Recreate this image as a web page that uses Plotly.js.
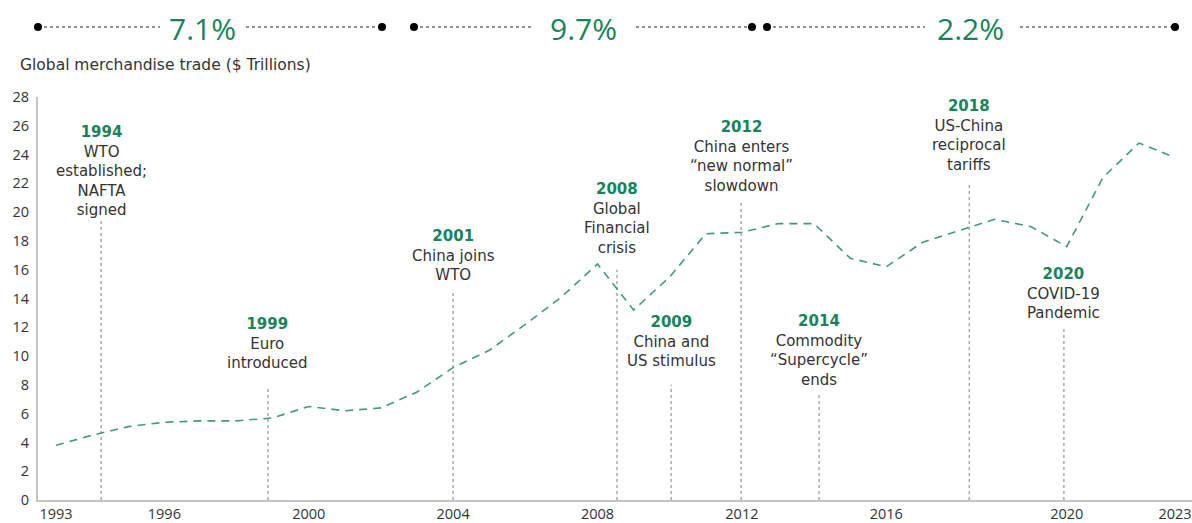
<!DOCTYPE html>
<html><head><meta charset="utf-8">
<script src="https://cdn.plot.ly/plotly-3.0.1.min.js"></script>
<style>html,body{margin:0;padding:0;background:#fff}#chart{width:1192px;height:523px}</style>
</head><body><div id="chart"></div>
<script>
// ---- data ----
const periods = ['1993','1994','1995','1996','1997','1998','1999','2000','2001','2002','2003','2004','2005','2006','2007','2008','2009','2010','2011','2012','2013','2014','2015','2016','2017','2017b','2018','2019','2020','2021','2022','2023'];
const tradeValues = [3.8,4.5,5.1,5.4,5.5,5.5,5.7,6.5,6.2,6.4,7.5,9.2,10.4,12.2,14.1,16.4,13.2,15.5,18.5,18.6,19.2,19.2,16.8,16.2,17.9,18.7,19.5,19.0,17.6,22.4,24.8,23.8];
const tickLabels = ['1993','1996','2000','2004','2008','2012','2016','2020','2023'];
const eventYears = ['1994','1999','2001','2008','2009','2012','2014','2018','2020'];
const eventTexts = ['WTO<br>established;<br>NAFTA<br>signed','Euro<br>introduced','China joins<br>WTO','Global<br>Financial<br>crisis','China and<br>US stimulus','China enters<br>“new normal”<br>slowdown','Commodity<br>“Supercycle”<br>ends','US-China<br>reciprocal<br>tariffs','COVID-19<br>Pandemic'];
const growthRates = ['7.1%','9.7%','2.2%'];
const yTitle = 'Global merchandise trade ($ Trillions)';

// ---- layout helpers (positions / styles) ----
const GREEN = '#16845a';
const LINEGREEN = '#3f9c74';
const FONT = 'Open Sans, sans-serif';
const TFONT = 'DejaVu Sans, sans-serif';
const xIdx = periods.map((_, i) => i);
const eventX = [1.25, 5.87, 11.0, 15.54, 17.04, 18.98, 21.14, 25.3, 27.92];
const eventLineTop = [19.6, 7.85, 14.6, 16.0, 8.0, 20.7, 7.3, 22.0, 12.0];
const eventTextTop = [26.36, 12.96, 19.11, 22.36, 13.11, 26.71, 13.21, 28.16, 16.46];
const PXU = 403 / 28;

const L = 38, T = 97, W = 1154, H = 403;
const px = x => (x - L) / W;
const py = y => (T + H - y) / H;

const shapes = [];
const annotations = [];

eventX.forEach((x, i) => {
  shapes.push({type:'line', xref:'x', yref:'y', x0:x, x1:x, y0:0, y1:eventLineTop[i],
    line:{color:'#a8a8a8', width:1.5, dash:'dot'}, layer:'below'});
  const yy = Math.min(eventTextTop[i], 28);
  annotations.push({xref:'x', yref:'y', x:x, y:yy, yshift:(eventTextTop[i] - yy) * PXU,
    xanchor:'center', yanchor:'top',
    showarrow:false, align:'center',
    text:'<b><span style="color:' + GREEN + '">' + eventYears[i] + '</span></b><br>' + eventTexts[i],
    font:{family:TFONT, size:15, color:'#333333'}});
});

// banner segments (pixel positions)
const banner = [
  {x0:38, x1:382, gl:160, gr:246, tx:203},
  {x0:414, x1:752, gl:532, gr:636, tx:583},
  {x0:767, x1:1175, gl:925, gr:1020, tx:970}
];
const BY = 27;
banner.forEach((b, i) => {
  [[b.x0, b.gl], [b.gr, b.x1]].forEach(([a, c]) => {
    shapes.push({type:'line', xref:'paper', yref:'paper', x0:px(a), x1:px(c), y0:py(BY), y1:py(BY),
      line:{color:'#222', width:1, dash:'dot'}});
  });
  [b.x0, b.x1].forEach(c => {
    shapes.push({type:'circle', xref:'paper', yref:'paper', xsizemode:'pixel', ysizemode:'pixel',
      xanchor:px(c), yanchor:py(BY), x0:-4, x1:4, y0:-4, y1:4,
      fillcolor:'#000', line:{color:'#000', width:0}});
  });
  annotations.push({xref:'paper', yref:'paper', x:px(b.tx), y:py(BY+1), xanchor:'center', yanchor:'middle',
    showarrow:false, text:growthRates[i], font:{family:FONT, size:30, color:GREEN}});
});

annotations.push({xref:'paper', yref:'paper', x:px(18), y:py(65), xanchor:'left', yanchor:'middle',
  showarrow:false, text:yTitle, font:{family:TFONT, size:15.5, color:'#333333'}});

const trace = {
  x: xIdx, y: tradeValues, type:'scatter', mode:'lines',
  line:{color:LINEGREEN, width:1.6, dash:'8px,6px'},
  hoverinfo:'skip', cliponaxis:false
};

const layout = {
  width:1192, height:523,
  margin:{l:L, r:0, t:T, b:523 - T - H},
  paper_bgcolor:'#fff', plot_bgcolor:'#fff',
  showlegend:false,
  font:{family:FONT, size:14, color:'#333'},
  xaxis:{range:[-0.5, 31.47], showgrid:false, zeroline:false, showline:true, linecolor:'#c4c4c4', linewidth:2,
    tickmode:'array', tickvals:tickLabels.map(t => periods.indexOf(t)), ticktext:tickLabels, ticks:'',
    tickfont:{family:FONT, size:14.5, color:'#333'}},
  yaxis:{range:[0, 28], dtick:2, showgrid:false, zeroline:false, showline:true, linecolor:'#c4c4c4', linewidth:2,
    ticks:'', ticklabelstandoff:4, tickfont:{family:FONT, size:14.5, color:'#333'}},
  shapes: shapes,
  annotations: annotations
};

Plotly.newPlot('chart', [trace], layout, {displayModeBar:false, staticPlot:true});
</script>
</body></html>
